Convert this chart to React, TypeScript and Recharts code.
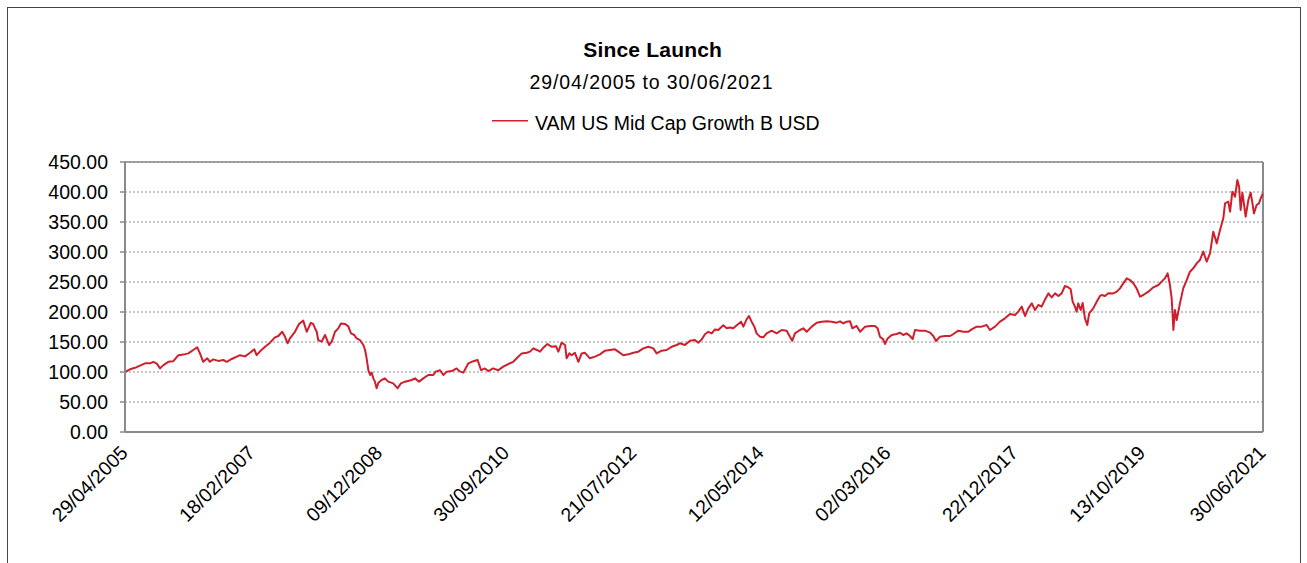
import React from "react";
import {
  LineChart,
  Line,
  XAxis,
  YAxis,
  CartesianGrid,
  ReferenceLine,
  Legend,
} from "recharts";

// Launch date of the fund (day offset 0)
const launchDate = "29/04/2005";

// X-axis tick labels (dates, every 660 days + the final date)
const tickDates = [
  "29/04/2005",
  "18/02/2007",
  "09/12/2008",
  "30/09/2010",
  "21/07/2012",
  "12/05/2014",
  "02/03/2016",
  "22/12/2017",
  "13/10/2019",
  "30/06/2021",
];

// Y-axis ticks
const yTicks = [0, 50, 100, 150, 200, 250, 300, 350, 400, 450];

// Days since launch for each sampled value
const dayOffsets = [
  0, 26, 52, 78, 104, 130, 147, 165, 182, 199,
  225, 251, 277, 303, 329, 354, 375, 389, 406, 427,
  441, 458, 484, 510, 528, 554, 580, 597, 623, 649,
  671, 683, 701, 727, 753, 778, 796, 816, 830, 844,
  856, 882, 903, 925, 943, 964, 977, 986, 995, 1003,
  1021, 1038, 1052, 1059, 1073, 1090, 1107, 1121, 1142, 1159,
  1173, 1190, 1202, 1220, 1237, 1246, 1254, 1263, 1272, 1280,
  1289, 1297, 1306, 1315, 1332, 1349, 1366, 1392, 1415, 1432,
  1453, 1488, 1505, 1526, 1548, 1574, 1600, 1612, 1635, 1652,
  1670, 1696, 1721, 1739, 1756, 1782, 1808, 1830, 1848, 1868,
  1885, 1911, 1937, 1963, 1989, 2015, 2033, 2059, 2085, 2102,
  2119, 2137, 2154, 2171, 2192, 2215, 2237, 2249, 2266, 2284,
  2292, 2306, 2318, 2335, 2353, 2370, 2387, 2413, 2439, 2465,
  2491, 2517, 2543, 2560, 2586, 2612, 2638, 2664, 2690, 2716,
  2742, 2759, 2785, 2811, 2837, 2863, 2880, 2906, 2932, 2958,
  2975, 2993, 3010, 3027, 3045, 3062, 3079, 3105, 3123, 3140,
  3157, 3175, 3197, 3209, 3226, 3238, 3252, 3266, 3278, 3295,
  3313, 3330, 3356, 3382, 3408, 3434, 3451, 3463, 3477, 3503,
  3520, 3538, 3564, 3590, 3616, 3642, 3668, 3694, 3711, 3728,
  3745, 3763, 3775, 3797, 3815, 3841, 3867, 3892, 3906, 3918,
  3935, 3944, 3958, 3979, 4005, 4022, 4039, 4057, 4074, 4088,
  4100, 4126, 4152, 4178, 4195, 4209, 4230, 4256, 4282, 4299,
  4325, 4351, 4377, 4394, 4420, 4446, 4472, 4489, 4515, 4541,
  4567, 4593, 4619, 4636, 4654, 4671, 4688, 4706, 4723, 4740,
  4757, 4775, 4792, 4809, 4827, 4844, 4861, 4878, 4896, 4908,
  4918, 4930, 4939, 4947, 4960, 4970, 4982, 4994, 5004, 5025,
  5043, 5060, 5069, 5086, 5103, 5129, 5147, 5164, 5181, 5199,
  5216, 5233, 5250, 5268, 5285, 5311, 5337, 5363, 5380, 5397,
  5411, 5423, 5432, 5441, 5449, 5458, 5475, 5492, 5510, 5527,
  5544, 5562, 5579, 5596, 5614, 5631, 5648, 5666, 5683, 5700,
  5709, 5726, 5735, 5747, 5761, 5773, 5782, 5790, 5799, 5809,
  5816, 5830, 5842, 5850, 5859, 5873, 5885, 5894, 5906,
];

// Fund value (rebased to 100 at launch)
const navValues = [
  100, 104.5, 107, 110.5, 114.5, 114.5, 117, 114, 106, 111.5,
  117, 118, 128, 129, 131, 136.7, 141, 131, 117, 122.8,
  117, 121, 118.5, 120, 117, 121.7, 125.6, 128, 126, 132,
  137.8, 128, 134.4, 142, 148.9, 157.8, 160, 167, 159, 147.8,
  156, 167, 180, 185.6, 167, 182, 180, 172.8, 167, 153,
  150.6, 161.7, 150.6, 145, 150.6, 167, 172.8, 181, 180, 176,
  164.4, 161.7, 156, 153, 145, 136.7, 122.8, 103, 95, 98.9,
  89.4, 83.9, 72.8, 82.2, 86.7, 89.4, 83.9, 81, 72.8, 81,
  83.9, 86.7, 89.4, 83.9, 89.4, 95, 95, 100.6, 103, 95,
  100.6, 101.5, 106, 100.6, 99, 114.5, 118, 120, 103, 106,
  101.5, 106, 103, 108.9, 113.3, 117, 122.8, 131, 132, 133.9,
  139.4, 136.7, 133.9, 140.6, 146.7, 142, 142.8, 133.9, 148.9, 145,
  122.8, 131, 128, 132, 117, 131, 132, 122.8, 125.6, 129.4,
  135.6, 136.7, 137.8, 133.9, 128, 129.4, 132, 133.9, 139.4, 142,
  139.4, 131, 135.6, 136.7, 142, 145, 147.8, 145, 152.2, 153.3,
  148.9, 154.4, 163, 167, 164.4, 171, 170, 178, 172.8, 174,
  172.8, 178, 183.9, 175.6, 187.8, 193.3, 183.9, 175.6, 164.4, 158.9,
  157.8, 164.4, 168.9, 164.4, 170, 168.9, 158.9, 152.2, 164.4, 170,
  172.8, 167, 175.6, 182.2, 183.9, 184.4, 183.9, 182.2, 184.4, 181,
  183.9, 184.4, 172.8, 176.7, 167, 175.6, 176.7, 176.7, 172.8, 158.9,
  154.4, 146.7, 156, 161.7, 163.3, 165.6, 161.7, 164.4, 160, 155,
  170, 168.9, 168.9, 165.6, 160, 151.7, 158.9, 160, 160, 163.3,
  168.9, 167, 167, 171, 175.6, 175.6, 178.3, 170, 175.6, 183.9,
  189.4, 196.7, 195, 200.6, 208.9, 193.3, 206, 214.4, 203.3, 211.7,
  208.9, 221, 231, 224.4, 231, 226.7, 231, 243.3, 241, 237.8,
  217.2, 208.9, 200.6, 214.4, 203.3, 215, 189.4, 178.3, 197.8, 206,
  217.2, 226.7, 228.3, 226.7, 231.1, 231, 233.9, 239.4, 247.8, 256.1,
  253.3, 247.8, 239.4, 225.6, 228.3, 233.9, 241.1, 245, 250.6, 256.1,
  264.4, 245, 222.8, 170, 203.3, 186.7, 214.4, 239.4, 253.3, 267.2,
  272.8, 281.1, 286.7, 300.6, 283.9, 297.8, 333.9, 314.4, 336.7, 356.1,
  381.1, 383.9, 367.2, 400.6, 392.2, 420, 408.9, 370, 398.9, 375.6,
  358.9, 386.7, 398.9, 383.9, 364.4, 378.3, 381, 389.4, 398,
];

const seriesName = "VAM US Mid Cap Growth B USD";
const chartTitle = "Since Launch";
const chartSubtitle = "29/04/2005 to 30/06/2021";

const FONT = '"Liberation Sans", Arial, Helvetica, sans-serif';
const LINE_COLOR = "#d01f2c";
const AXIS_COLOR = "#8a8a8a";

const parseDMY = (s: string) => {
  const [d, m, y] = s.split("/").map(Number);
  return Date.UTC(y, m - 1, d);
};
const DAY_MS = 86400000;
const launchMs = parseDMY(launchDate);
const tickOffsets = tickDates.map((s) =>
  Math.round((parseDMY(s) - launchMs) / DAY_MS)
);
const tickLabelByOffset: Record<number, string> = {};
tickOffsets.forEach((o, i) => (tickLabelByOffset[o] = tickDates[i]));
const lastOffset = tickOffsets[tickOffsets.length - 1];

const chartData = dayOffsets.map((d, i) => ({ day: d, nav: navValues[i] }));

const XTick = (props: any) => {
  const { x, y, payload } = props;
  const ax = x + 4;
  const ay = y + 22;
  return (
    <text
      x={ax}
      y={ay}
      textAnchor="end"
      fill="#000"
      fontSize={19.5}
      fontFamily={FONT}
      transform={`rotate(-45, ${ax}, ${ay})`}
    >
      {tickLabelByOffset[payload.value] ?? ""}
    </text>
  );
};

const renderLegend = (props: any) => {
  const item = (props.payload && props.payload[0]) || {};
  return (
    <svg width={1307} height={34} style={{ display: "block" }}>
      <line
        x1={492}
        x2={528}
        y1={15.7}
        y2={15.7}
        stroke={item.color || LINE_COLOR}
        strokeWidth={1.5}
      />
      <text x={535} y={25} fontSize={19.5} fontFamily={FONT} fill="#000">
        {item.value || seriesName}
      </text>
    </svg>
  );
};

export default function App() {
  return (
    <div
      style={{
        position: "absolute",
        left: 0,
        top: 0,
        width: 1307,
        height: 563,
        overflow: "hidden",
        background: "#fff",
      }}
    >
      <div
        style={{
          position: "absolute",
          left: 7,
          top: 7,
          width: 1294,
          height: 600,
          border: "1px solid #444",
          boxSizing: "border-box",
        }}
      />
      <svg
        width={1307}
        height={140}
        style={{ position: "absolute", left: 0, top: 0 }}
      >
        <text
          x={652.7}
          y={57.3}
          textAnchor="middle"
          fontSize={21}
          fontWeight="bold"
          fontFamily={FONT}
          letterSpacing={0.2}
          fill="#000"
        >
          {chartTitle}
        </text>
        <text
          x={651.5}
          y={89.3}
          textAnchor="middle"
          fontSize={19.5}
          fontFamily={FONT}
          letterSpacing={0.9}
          fill="#000"
        >
          {chartSubtitle}
        </text>
      </svg>
      <div style={{ position: "absolute", left: 0, top: 0 }}>
        <LineChart
          width={1307}
          height={563}
          data={chartData}
          margin={{ top: 162, right: 44, bottom: 0, left: 8 }}
        >
          <CartesianGrid
            horizontal={true}
            vertical={false}
            stroke="#8f8f8f"
            strokeDasharray="2 2"
          />
          <XAxis
            dataKey="day"
            type="number"
            domain={[0, lastOffset]}
            ticks={tickOffsets}
            interval={0}
            height={131}
            tickLine={false}
            tickSize={0}
            tickMargin={0}
            axisLine={{ stroke: AXIS_COLOR, strokeWidth: 2 }}
            tick={<XTick />}
            allowDataOverflow
          />
          <YAxis
            type="number"
            domain={[0, 450]}
            ticks={yTicks}
            interval={0}
            width={117}
            tickSize={5}
            tickMargin={12}
            tickLine={{ stroke: AXIS_COLOR, strokeWidth: 1.5 }}
            axisLine={{ stroke: AXIS_COLOR, strokeWidth: 2 }}
            tick={{ fill: "#000", fontSize: 19.5, fontFamily: FONT }}
            tickFormatter={(v: number) => v.toFixed(2)}
          />
          <ReferenceLine y={450} stroke={AXIS_COLOR} strokeWidth={1.5} />
          <ReferenceLine x={lastOffset} stroke={AXIS_COLOR} strokeWidth={2} />
          <Legend
            layout="vertical"
            verticalAlign="middle"
            align="center"
            wrapperStyle={{ position: "absolute", top: 105, left: 0, width: 1307, height: 34 }}
            content={renderLegend}
          />
          <Line
            type="linear"
            dataKey="nav"
            name={seriesName}
            stroke={LINE_COLOR}
            strokeWidth={2}
            strokeLinejoin="round"
            dot={false}
            activeDot={false}
            isAnimationActive={false}
          />
        </LineChart>
      </div>
    </div>
  );
}
